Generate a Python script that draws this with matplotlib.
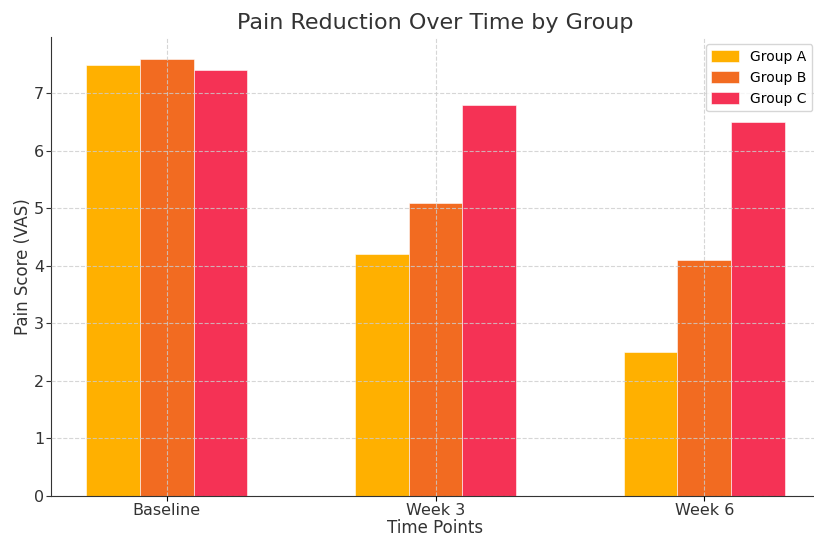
import matplotlib
matplotlib.use("Agg")
import matplotlib.pyplot as plt
import numpy as np

time_points = ["Baseline", "Week 3", "Week 6"]
groups = ["Group A", "Group B", "Group C"]
group_a = [7.5, 4.2, 2.5]
group_b = [7.6, 5.1, 4.1]
group_c = [7.4, 6.8, 6.5]
colors = ["#FFB000", "#F26B21", "#F53255"]

fig = plt.figure(figsize=(8.14, 5.39), dpi=100)
ax = fig.add_axes([51 / 814, 1 - 496 / 539, 769 / 814, (496 - 37) / 539])

x = np.arange(len(time_points))
width = 0.2
for i, (vals, name, c) in enumerate(zip([group_a, group_b, group_c], groups, colors)):
    ax.bar(x + (i - 1) * width, vals, width, label=name, color=c,
           edgecolor="white", linewidth=0.4)

ax.set_xticks(x)
ax.set_xticklabels(time_points, fontsize=11.5, color="#333333")
ax.tick_params(axis="x", pad=1.5)
ax.tick_params(axis="y", labelsize=11.5, colors="#333333", pad=1.5)
ax.set_xlabel("Time Points", fontsize=12, color="#333333", labelpad=1)
ax.set_ylabel("Pain Score (VAS)", fontsize=12, color="#333333", labelpad=1)
ax.set_title("Pain Reduction Over Time by Group", fontsize=16, color="#333333", pad=6)
ax.grid(True, linestyle="--", color="#cccccc", linewidth=0.8, alpha=0.8)
ax.set_axisbelow(False)
for s in ["top", "right"]:
    ax.spines[s].set_visible(False)
ax.spines["left"].set_color("#333333")
ax.spines["bottom"].set_color("#333333")
ax.set_ylim(0, 7.98)
ax.set_xlim(-0.43, 2.43)
ax.legend(loc="upper right", fontsize=10, bbox_to_anchor=(0.999, 0.999),
          handleheight=0.9)

fig.savefig("out.png", dpi=100)
